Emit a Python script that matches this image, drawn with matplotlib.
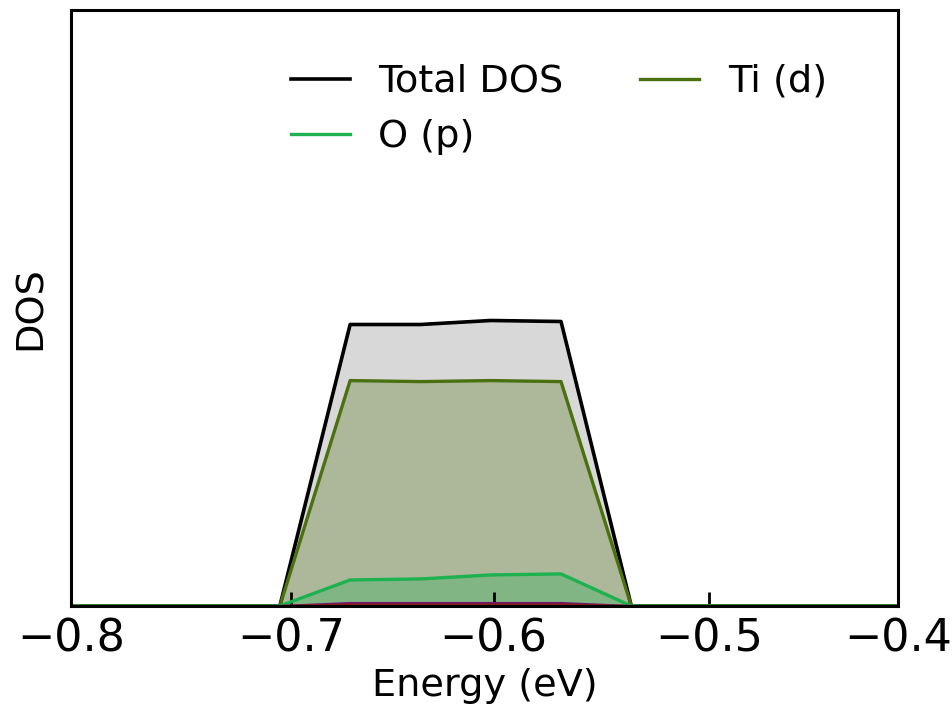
import matplotlib
matplotlib.use("Agg")
import matplotlib.pyplot as plt

# energy grid (eV) and projected DOS (arb. units)
energy = [-0.8, -0.699, -0.665, -0.631, -0.597, -0.563, -0.529, -0.4]
dos_total = [0.0, 0.0, 2.81, 2.81, 2.85, 2.84, 0.0, 0.0]
dos_ti_d = [0.0, 0.0, 2.25, 2.24, 2.25, 2.24, 0.0, 0.0]
dos_o_p = [0.0, 0.0, 0.26, 0.27, 0.31, 0.32, 0.0, 0.0]
dos_ti_p = [0.0, 0.0, 0.03, 0.03, 0.03, 0.03, 0.0, 0.0]
dos_o_s = [0.0, 0.0, 0.015, 0.015, 0.015, 0.015, 0.0, 0.0]

# ticks sit at unrounded energies, labels rounded to one decimal
xticks = [-0.8, -0.6936, -0.5956, -0.4912, -0.4]
xticklabels = ["\u22120.8", "\u22120.7", "\u22120.6", "\u22120.5", "\u22120.4"]

c_total = "black"
c_ti = "#4a7010"
c_o = "#1db14f"
c_tip = "#6a1a6e"
c_os = "#8b1a1a"

fig = plt.figure(figsize=(9.52, 7.11), dpi=100)
ax = fig.add_axes([0.0746, 0.1477, 0.8687, 0.8383])

ax.plot(energy, dos_total, color=c_total, lw=2.6, label="Total DOS")
ax.fill_between(energy, dos_total, color="gray", alpha=0.3, lw=0)
ax.plot(energy, dos_ti_d, color=c_ti, lw=2.4, label="Ti (d)")
ax.fill_between(energy, dos_ti_d, color=c_ti, alpha=0.3, lw=0)
ax.plot(energy, dos_o_p, color=c_o, lw=2.4, label="O (p)")
ax.fill_between(energy, dos_o_p, color=c_o, alpha=0.3, lw=0)
ax.plot(energy, dos_ti_p, color=c_tip, lw=1.5)
ax.plot(energy, dos_o_s, color=c_os, lw=1.5)
# baseline in Ti colour like the reference
ax.plot([energy[0], energy[1]], [0, 0], color=c_ti, lw=2.4)
ax.plot([energy[-2], energy[-1]], [0, 0], color=c_ti, lw=2.4)

ax.set_xlim(-0.8, -0.4)
ax.set_ylim(0, 5.95)
ax.set_xticks(xticks)
ax.set_xticklabels(xticklabels)
ax.set_yticks([])
ax.tick_params(axis="x", direction="in", length=10, width=2, labelsize=32, pad=8)
for s in ax.spines.values():
	s.set_linewidth(2.2)

ax.set_xlabel("Energy (eV)", fontsize=27.5, labelpad=6)
ax.set_ylabel("DOS", fontsize=27.5, labelpad=16)

h, l = ax.get_legend_handles_labels()
order = [0, 2, 1]
ax.legend(
	[h[i] for i in order],
	[l[i] for i in order],
	ncol=2,
	frameon=False,
	fontsize=27.5,
	handlelength=1.55,
	handletextpad=0.75,
	columnspacing=2.0,
	loc="upper left",
	bbox_to_anchor=(0.247, 0.935),
	borderaxespad=0,
)

fig.savefig("out.png", dpi=100)
